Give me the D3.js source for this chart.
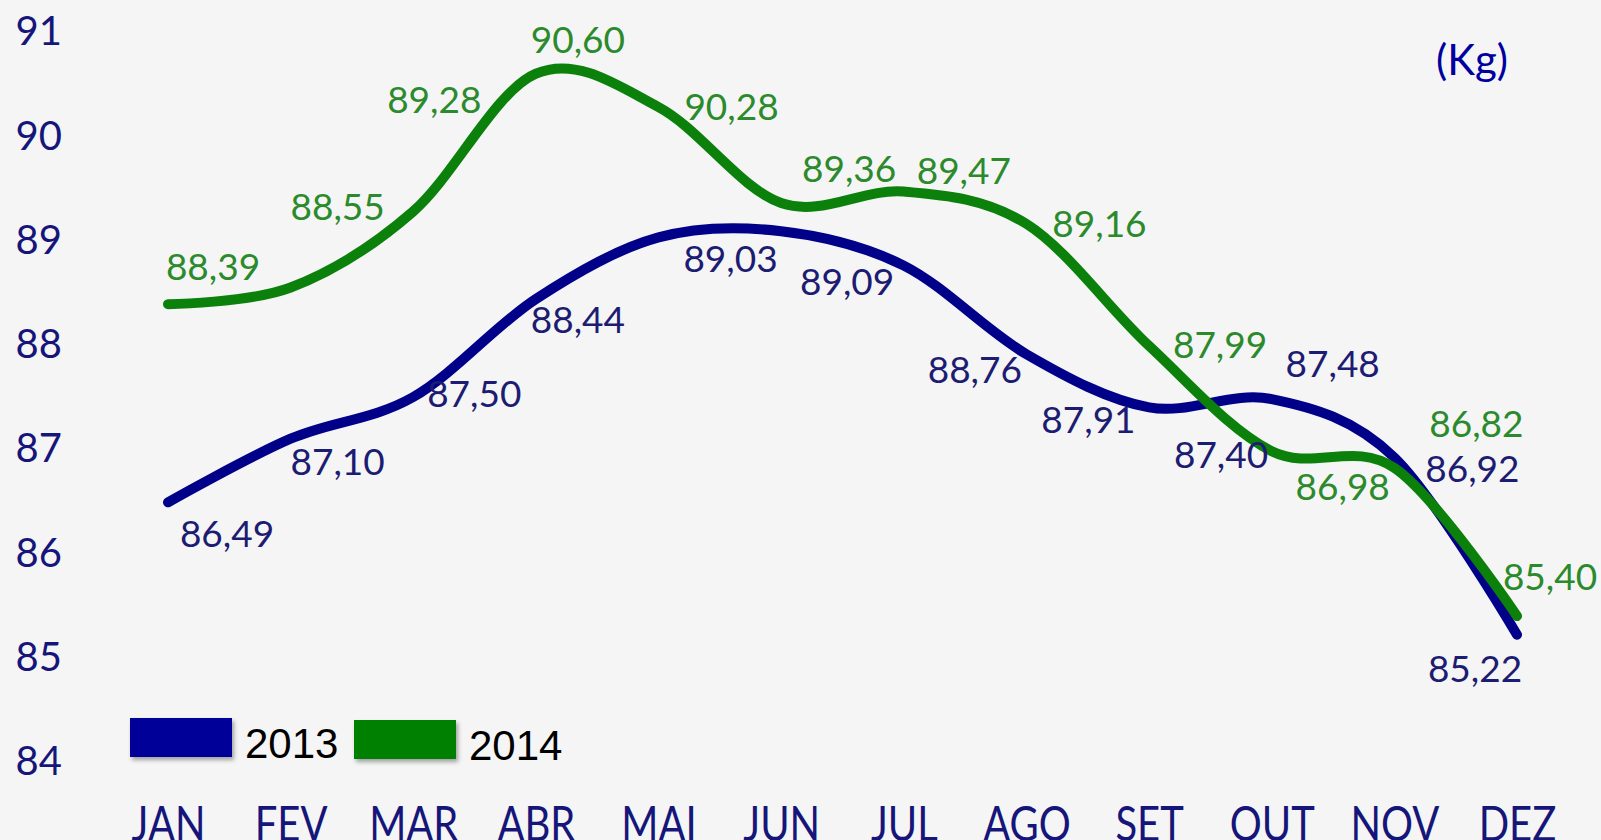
<!DOCTYPE html>
<html>
<head>
<meta charset="utf-8">
<script src="https://cdn.jsdelivr.net/npm/d3@7"></script>
<style>
  html, body { margin: 0; padding: 0; background: #f5f5f5; overflow: hidden; }
  svg { display: block; }
</style>
</head>
<body>
<main></main>
<script>
// chart data (kg per month)
const months = ["JAN", "FEV", "MAR", "ABR", "MAI", "JUN", "JUL", "AGO", "SET", "OUT", "NOV", "DEZ"];
const values2013 = [86.49, 87.10, 87.50, 88.44, 89.03, 89.09, 88.76, 87.91, 87.40, 87.48, 86.92, 85.22];
const values2014 = [88.39, 88.55, 89.28, 90.60, 90.28, 89.36, 89.47, 89.16, 87.99, 86.98, 86.82, 85.40];
const yTicks = [84, 85, 86, 87, 88, 89, 90, 91];
const seriesNames = ["2013", "2014"];

// where each value label sits relative to its point (px)
const labelOffsets2013 = [[59, 45], [47, 36], [61, 10], [42, 34], [72, 35], [66, 64],
                          [71, 117], [62, 79], [72, 61], [61, -22], [78, 25], [-42, 47]];
const labelOffsets2014 = [[45, -24], [47, -68], [21, -98], [42, -21], [73, 13], [68, -21],
                          [60, -8], [73, 13], [71, 12], [71, 49], [82, -31], [33, -26]];

const width = 1601, height = 840;
const blue = "#000088", green = "#0b800b";

const svg = d3.select("main")
  .append("svg")
  .attr("width", width)
  .attr("height", height);

// soft shadow for legend swatches
const defs = svg.append("defs");
const shadow = defs.append("filter").attr("id", "shadow")
  .attr("x", "-20%").attr("y", "-20%").attr("width", "140%").attr("height", "160%");
shadow.append("feDropShadow")
  .attr("dx", 2).attr("dy", 3).attr("stdDeviation", 2)
  .attr("flood-color", "#000").attr("flood-opacity", 0.35);

svg.append("rect")
  .attr("width", width).attr("height", height)
  .attr("fill", "#f5f5f5");

const x = d3.scalePoint().domain(months).range([168, 1517]);
const y = d3.scaleLinear().domain([84, 91]).range([762, 32]);

// y axis
const yAxis = svg.append("g")
  .attr("transform", "translate(62,0)")
  .call(d3.axisLeft(y).tickValues(yTicks).tickSize(0).tickPadding(0).tickFormat(d3.format("d")));
yAxis.select(".domain").remove();
yAxis.selectAll("text")
  .attr("font-family", "Lato, sans-serif")
  .attr("font-size", 40)
  .attr("fill", "#15157a");

// x axis (tall, narrow month names, cut by the bottom edge like the original)
const xAxis = svg.append("g")
  .attr("transform", "translate(0,806)")
  .call(d3.axisBottom(x).tickSize(0).tickPadding(0));
xAxis.select(".domain").remove();
xAxis.selectAll("text")
  .attr("y", 0)
  .attr("dy", "0.72em")
  .attr("transform", "scale(1,1.2)")
  .attr("font-family", "Lato, sans-serif")
  .attr("font-size", 40)
  .attr("fill", "#15157a");

// unit
svg.append("text")
  .attr("x", 1472).attr("y", 75)
  .attr("text-anchor", "middle")
  .attr("font-family", "Lato, sans-serif")
  .attr("font-size", 42)
  .attr("fill", "#0000a0")
  .text("(Kg)");

const line = d3.line()
  .x((d, i) => x(months[i]))
  .y(d => y(d))
  .curve(d3.curveCardinal.tension(0));

const series = [
  { name: seriesNames[0], values: values2013, offsets: labelOffsets2013, color: blue, text: "#1c1c72" },
  { name: seriesNames[1], values: values2014, offsets: labelOffsets2014, color: green, text: "#2b8a2b" }
];

// lines
svg.append("g").selectAll("path")
  .data(series)
  .enter().append("path")
  .attr("d", d => line(d.values))
  .attr("fill", "none")
  .attr("stroke", d => d.color)
  .attr("stroke-width", 10)
  .attr("stroke-linecap", "round")
  .attr("stroke-linejoin", "round");

// value labels
const fmt = v => d3.format(".2f")(v).replace(".", ",");
series.forEach(s => {
  svg.append("g").selectAll("text")
    .data(s.values)
    .enter().append("text")
    .attr("x", (d, i) => x(months[i]) + s.offsets[i][0])
    .attr("y", (d, i) => y(d) + s.offsets[i][1])
    .attr("text-anchor", "middle")
    .attr("font-family", "Lato, sans-serif")
    .attr("font-size", 37)
    .attr("fill", s.text)
    .text(d => fmt(d));
});

// legend
const legendX = [130, 354];
const legendY = [718, 720];
const legend = svg.append("g").selectAll("g")
  .data(series)
  .enter().append("g")
  .attr("transform", (d, i) => `translate(${legendX[i]},${legendY[i]})`);

legend.append("rect")
  .attr("width", 102).attr("height", 39)
  .attr("fill", (d, i) => i === 0 ? "#000099" : "#008000")
  .attr("filter", "url(#shadow)");

legend.append("text")
  .attr("x", 115).attr("y", 40)
  .attr("font-family", "'Liberation Sans', Arial, sans-serif")
  .attr("font-size", 42)
  .attr("fill", "#000")
  .text(d => d.name);
</script>
</body>
</html>
